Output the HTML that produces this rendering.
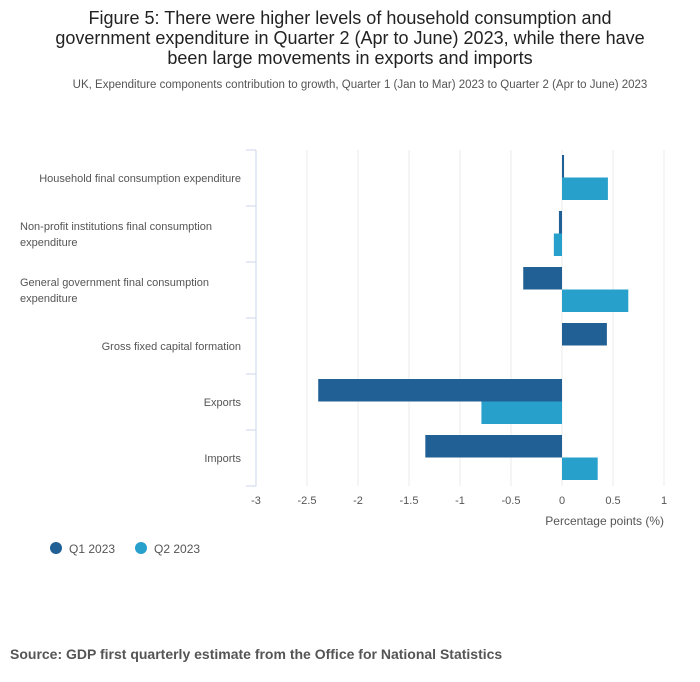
<!DOCTYPE html>
<html><head><meta charset="utf-8"><style>
body{margin:0;width:700px;height:682px;background:#fff;font-family:"Liberation Sans",sans-serif;overflow:hidden}
#title{position:absolute;left:20px;width:660px;top:8px;text-align:center;font-size:18px;line-height:20px;color:#222}
#sub{position:absolute;left:10px;width:700px;top:79px;text-align:center;font-size:11.5px;color:#555}
#source{position:absolute;left:10px;top:646px;font-size:14px;font-weight:bold;color:#555}
svg{position:absolute;left:0;top:0}
</style></head><body>
<div id="title">Figure 5: There were higher levels of household consumption and<br>government expenditure in Quarter 2 (Apr to June) 2023, while there have<br>been large movements in exports and imports</div>
<div id="sub">UK, Expenditure components contribution to growth, Quarter 1 (Jan to Mar) 2023 to Quarter 2 (Apr to June) 2023</div>
<svg id="chart" width="700" height="682"></svg>
<div id="source">Source: GDP first quarterly estimate from the Office for National Statistics</div>
<script>
const categories=[["Household final consumption expenditure"],["Non-profit institutions final consumption","expenditure"],["General government final consumption","expenditure"],["Gross fixed capital formation"],["Exports"],["Imports"]];
const q1Values=[0.02,-0.03,-0.38,0.44,-2.39,-1.34];
const q2Values=[0.45,-0.08,0.65,0,-0.79,0.35];
const tickValues=[-3,-2.5,-2,-1.5,-1,-0.5,0,0.5,1];
const tickLabels=["-3","-2.5","-2","-1.5","-1","-0.5","0","0.5","1"];
const seriesNames=["Q1 2023","Q2 2023"];
const colors=["#206095","#27a0cc"];
const svg=document.getElementById('chart');const NS="http://www.w3.org/2000/svg";
const x0=256,x1=664,yTop=150,yBottom=486;
const x=v=>x0+(v-tickValues[0])/(tickValues[tickValues.length-1]-tickValues[0])*(x1-x0);
const band=(yBottom-yTop)/categories.length;
function mk(t,a,p){const e=document.createElementNS(NS,t);for(const k in a)e.setAttribute(k,a[k]);(p||svg).appendChild(e);return e;}
tickValues.forEach((v,i)=>{
 const g=mk('line',{x1:x(v),x2:x(v),y1:yTop,y2:yBottom,stroke:'#ebebeb'});
 
 
 const t=mk('text',{x:x(v),y:504,'text-anchor':'middle','font-size':11,fill:'#555'});t.textContent=tickLabels[i];
 
 
});
const ax=mk('line',{x1:x0,x2:x0,y1:yTop,y2:yBottom,stroke:'#ccd6eb'});


categories.forEach((c,i)=>{
 const by=yTop+i*band;
 const tk=mk('line',{x1:x0-10,x2:x0,y1:by+band,y2:by+band,stroke:'#ccd6eb'});
 
 
 if(i==0){const t0=mk('line',{x1:x0-10,x2:x0,y1:by,y2:by,stroke:'#ccd6eb'});}
 const multi=c.length>1;
 c.forEach((ln,j)=>{
  const t=mk('text',{x:multi?20:241,y:by+band/2+4+(multi?(j-0.5)*16:0),'text-anchor':multi?'start':'end','font-size':11,fill:'#555'});
  t.textContent=ln;
  
  
 });
 [q1Values[i],q2Values[i]].forEach((v,s)=>{
  const a=x(Math.min(0,v)),b=x(Math.max(0,v));
  const r=mk('rect',{x:a,y:by+5+s*22.5,width:Math.max(b-a,0),height:22.5,fill:colors[s]});
  
  
 });
});
const at=mk('text',{x:x1,y:525,'text-anchor':'end','font-size':12,fill:'#555'});at.textContent="Percentage points (%)";


seriesNames.forEach((n,s)=>{
 const lx=s?141:56;
 const c=mk('circle',{cx:lx,cy:548,r:6,fill:colors[s]});
 
 
 const t=mk('text',{x:lx+13,y:553,'font-size':12,fill:'#555'});t.textContent=n;
 
 
});
</script>
</body></html>
